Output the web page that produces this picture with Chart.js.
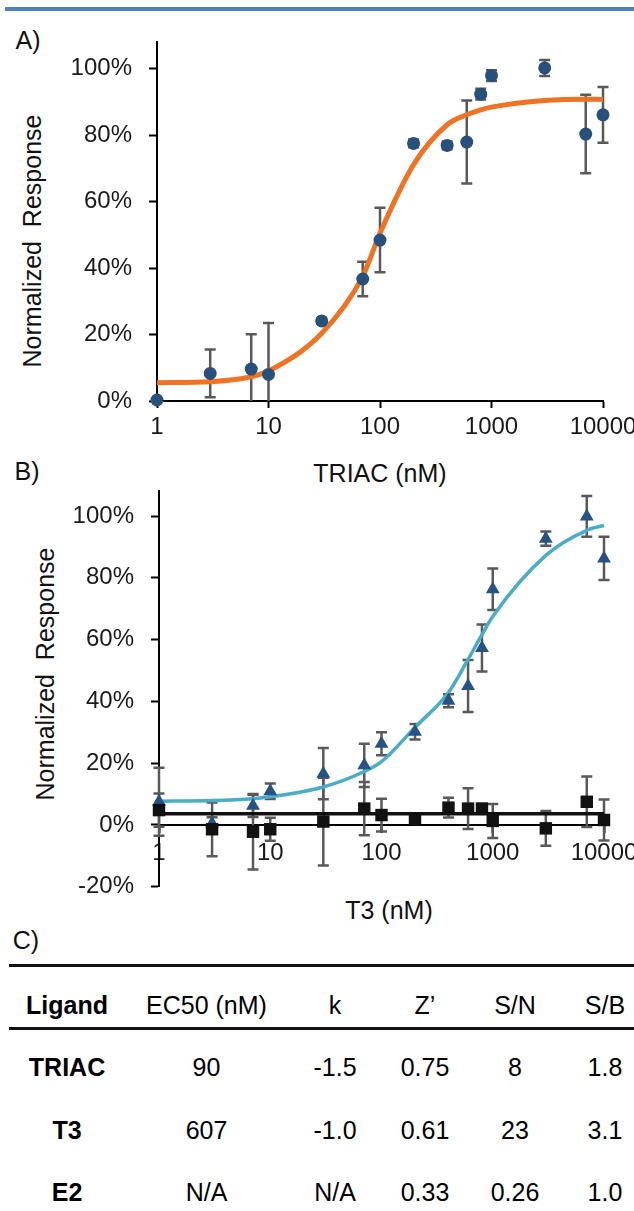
<!DOCTYPE html>
<html>
<head>
<meta charset="utf-8">
<script src="https://cdn.jsdelivr.net/npm/chart.js@4.4.1/dist/chart.umd.min.js"></script>
<style>
html, body { margin: 0; padding: 0; background: #fff; }
body { width: 634px; height: 1211px; overflow: hidden; position: relative;
       font-family: "Liberation Sans", Arial, sans-serif; color: #111; }
.abs { position: absolute; white-space: pre; line-height: 30px; font-size: 25px; }
.mid { transform: translate(-50%, -50%); }
.rot { transform: translate(-50%, -50%) rotate(-90deg); }
.rule { position: absolute; background: #111; }
canvas { position: absolute; left: 0; }
</style>
</head>
<body>
<div class="rule" style="left:5px; right:0; top:7px; height:4px; background:#4f81bd"></div>

<div class="abs mid" style="left:28px; top:40px">A)</div>
<div class="abs mid" style="left:27px; top:471px">B)</div>
<div class="abs mid" style="left:26px; top:940px">C)</div>

<div class="abs rot" style="left:32px; top:241px">Normalized  Response</div>
<div class="abs mid" style="left:380px; top:473px">TRIAC (nM)</div>
<div class="abs rot" style="left:45px; top:674px">Normalized  Response</div>
<div class="abs mid" style="left:389px; top:910px">T3 (nM)</div>

<canvas id="chartA" width="700" height="450" style="top:0"></canvas>
<canvas id="chartB" width="700" height="480" style="top:460px"></canvas>

<div id="table"></div>

<script>
// panel A: TRIAC dose response
const triacX = [1, 3, 7, 10, 30, 70, 100, 200, 400, 600, 800, 1000, 3000, 7000, 10000];
const triacY = [0.3, 8.3, 9.6, 8.0, 24.1, 36.7, 48.4, 77.5, 76.9, 77.9, 92.3, 97.9, 100.2, 80.3, 86.1];
const triacErr = [0, 7.2, 10.5, 15.5, 0.8, 5.2, 9.7, 1.2, 1.2, 12.5, 1.6, 1.6, 2.4, 11.8, 8.4];
const triacFitY = [5.5, 5.8, 7.3, 9.0, 20.4, 37.5, 50.5, 71.1, 83.1, 86.1, 87.6, 88.4, 90.4, 90.8, 90.7];

// panel B: T3 (triangles) and E2 (squares)
const t3X = [1, 3, 7, 10, 30, 70, 100, 200, 400, 600, 800, 1000, 3000, 7000, 10000];
const t3Y = [7.5, 0.5, 6.2, 10.9, 16.6, 19.3, 26.3, 30.2, 40.2, 45.0, 57.3, 76.3, 92.7, 99.9, 86.3];
const t3Err = [11, 2, 3.6, 2.5, 8.3, 7, 3.7, 2.5, 2.1, 8.4, 7.6, 6.7, 2.3, 6.6, 7];
const t3FitY = [7.7, 7.9, 8.5, 9.1, 12.3, 17.3, 20.5, 31.6, 42.9, 53.6, 61.6, 67.5, 87.3, 95.4, 97.0];

const e2X = [1, 3, 7, 10, 30, 70, 100, 200, 400, 600, 800, 1000, 3000, 7000, 10000];
const e2Y = [4.8, -1.4, -2.2, -1.4, 1.1, 5.3, 3.2, 2.1, 5.6, 5.3, 5.3, 1.3, -1.1, 7.5, 1.6];
const e2Err = [5.4, 8.7, 12.2, 3.7, 14.2, 8.6, 5.3, 1.5, 3.2, 6.6, 1.5, 5.5, 5.6, 8.2, 6.6];
const e2FitX = [1, 10000];
const e2FitY = [3.6, 3.6];

const decades = [1, 10, 100, 1000, 10000];
const yTicksA = [0, 20, 40, 60, 80, 100];
const yTicksB = [-20, 0, 20, 40, 60, 80, 100];

// panel C table
const tableHead = ["Ligand", "EC50 (nM)", "k", "Z\u2019", "S/N", "S/B"];
const ligands = ["TRIAC", "T3", "E2"];
const ec50 = ["90", "607", "N/A"];
const kVals = ["-1.5", "-1.0", "N/A"];
const zPrime = ["0.75", "0.61", "0.33"];
const sn = ["8", "23", "0.26"];
const sb = ["1.8", "3.1", "1.0"];

Chart.defaults.font.family = "'Liberation Sans', Arial, sans-serif";
const tickFont = { size: 24 };
const ink = "#1a1a1a";

const pts = (xs, ys) => xs.map((x, i) => ({ x: x, y: ys[i] }));

const errorBars = {
    id: "errorBars",
    beforeDatasetsDraw(chart) {
        const { ctx, chartArea, scales: { x, y } } = chart;
        ctx.save();
        ctx.beginPath();
        ctx.rect(chartArea.left - 12, chartArea.top - 20, chartArea.right - chartArea.left + 24, chartArea.bottom - chartArea.top + 20);
        ctx.clip();
        ctx.strokeStyle = "#595959";
        ctx.lineWidth = 2.5;
        chart.data.datasets.forEach(ds => {
            if (!ds.errors) return;
            ds.data.forEach((p, i) => {
                const e = ds.errors[i];
                if (!e) return;
                const px = x.getPixelForValue(p.x);
                const top = y.getPixelForValue(p.y + e);
                const bot = y.getPixelForValue(p.y - e);
                ctx.beginPath();
                ctx.moveTo(px, top); ctx.lineTo(px, bot);
                ctx.moveTo(px - 5.5, top); ctx.lineTo(px + 5.5, top);
                ctx.moveTo(px - 5.5, bot); ctx.lineTo(px + 5.5, bot);
                ctx.stroke();
            });
        });
        ctx.restore();
    }
};

function xAxis(extra) {
    return Object.assign({
        type: "logarithmic",
        min: 1,
        max: 10000,
        afterBuildTicks: s => { s.ticks = decades.map(v => ({ value: v })); },
        grid: { drawOnChartArea: false, tickLength: 7, tickWidth: 2, tickColor: "#000" },
        border: { color: "#000", width: 2 },
        ticks: { font: tickFont, color: ink, padding: 5, maxRotation: 0, autoSkip: false, callback: v => String(v) }
    }, extra);
}

function yAxis(min, ticks, width) {
    return {
        type: "linear",
        min: min,
        max: 108,
        afterBuildTicks: s => { s.ticks = ticks.map(v => ({ value: v })); },
        afterFit: s => { s.width = width; },
        grid: { drawOnChartArea: false, tickLength: 8, tickWidth: 2, tickColor: "#000" },
        border: { color: "#000", width: 2 },
        ticks: { font: tickFont, color: ink, padding: 17, callback: v => v + "%" }
    };
}

const common = {
    responsive: false,
    animation: false,
    events: [],
    plugins: { legend: { display: false }, tooltip: { enabled: false } }
};

new Chart(document.getElementById("chartA"), {
    type: "scatter",
    data: {
        datasets: [
            {
                data: pts(triacX, triacY),
                errors: triacErr,
                pointStyle: "circle",
                pointRadius: 6.5,
                backgroundColor: "#27507a",
                borderColor: "#27507a",
                borderWidth: 0,
                clip: false,
                order: 0
            },
            {
                type: "line",
                data: pts(triacX, triacFitY),
                borderColor: "#f07323",
                borderWidth: 5,
                pointRadius: 0,
                cubicInterpolationMode: "monotone",
                fill: false,
                clip: false,
                order: 1
            }
        ]
    },
    options: Object.assign({}, common, {
        layout: { padding: { top: 42, right: 97, left: 0, bottom: 0 } },
        scales: {
            x: xAxis({ afterFit: s => { s.height = 49; } }),
            y: yAxis(0, yTicksA, 157)
        }
    }),
    plugins: [errorBars]
});

const axisB = xAxis({ position: { y: 0 } });
axisB.ticks.padding = 7;

new Chart(document.getElementById("chartB"), {
    type: "scatter",
    data: {
        datasets: [
            {
                data: pts(e2X, e2Y),
                errors: e2Err,
                pointStyle: "rect",
                pointRadius: 8.8,
                backgroundColor: "#111",
                borderColor: "#111",
                borderWidth: 0,
                clip: false,
                order: 0
            },
            {
                data: pts(t3X, t3Y),
                errors: t3Err,
                pointStyle: "triangle",
                pointRadius: 8,
                backgroundColor: "#265382",
                borderColor: "#265382",
                borderWidth: 0,
                clip: false,
                order: 1
            },
            {
                type: "line",
                data: pts(e2FitX, e2FitY),
                borderColor: "#111",
                borderWidth: 3.5,
                pointRadius: 0,
                fill: false,
                clip: false,
                order: 2
            },
            {
                type: "line",
                data: pts(t3X, t3FitY),
                borderColor: "#4bacc6",
                borderWidth: 3.5,
                pointRadius: 0,
                cubicInterpolationMode: "monotone",
                fill: false,
                clip: false,
                order: 3
            }
        ]
    },
    options: Object.assign({}, common, {
        layout: { padding: { top: 28, right: 96, left: 0, bottom: 53.3 } },
        scales: {
            x: axisB,
            y: yAxis(-20, yTicksB, 159)
        }
    }),
    plugins: [errorBars]
});

// table for panel C
const colX = [67, 206.5, 335, 425, 515, 605];
const headY = 1005;
const rowY = [1067, 1130, 1192];
const table = document.getElementById("table");

function cell(text, x, y, bold) {
    const d = document.createElement("div");
    d.className = "abs mid";
    d.style.left = x + "px";
    d.style.top = y + "px";
    d.style.color = "#000";
    if (bold) d.style.fontWeight = "bold";
    d.textContent = text;
    table.appendChild(d);
}

function rule(y) {
    const d = document.createElement("div");
    d.className = "rule";
    d.style.left = "9px";
    d.style.right = "0";
    d.style.top = y + "px";
    d.style.height = "3px";
    table.appendChild(d);
}

rule(963.5);
rule(1027);
tableHead.forEach((h, i) => cell(h, colX[i], headY, i === 0));
ligands.forEach((name, r) => {
    const row = [name, ec50[r], kVals[r], zPrime[r], sn[r], sb[r]];
    row.forEach((v, i) => cell(v, colX[i], rowY[r], i === 0));
});
</script>
</body>
</html>
